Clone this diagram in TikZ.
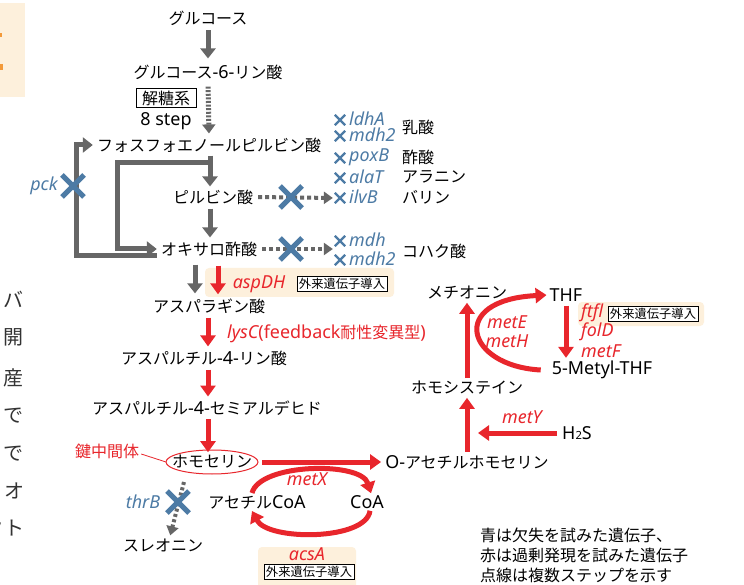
\documentclass[tikz,border=0pt]{standalone}
\usepackage{fontspec}
\setmainfont{Noto Sans CJK JP}
\newfontfamily\lat{Noto Sans}[Scale=1.12]
\usetikzlibrary{arrows.meta,shapes.misc,calc}
\definecolor{mygray}{HTML}{666666}
\definecolor{myred}{HTML}{E8262C}
\definecolor{myblue}{HTML}{4D7BA5}
\definecolor{mybeige}{HTML}{FDF0DC}
\definecolor{myorange}{HTML}{F39A3A}
\tikzset{
 txt/.style={font=\fontsize{16}{18}\selectfont, inner sep=2pt},
 side/.style={font=\fontsize{20}{22}\selectfont, inner sep=0pt, text=black!80},
 gene/.style={font=\fontsize{16}{18}\selectfont\lat\itshape, text=myblue, inner sep=1pt},
 rgene/.style={font=\fontsize{16}{18}\selectfont\lat\itshape, text=myred, inner sep=1pt},
 gar/.style={draw=mygray, line width=5pt, -{Triangle[length=10pt,width=15pt]}},
 rar/.style={draw=myred, line width=5pt, -{Triangle[length=11pt,width=15pt]}},
 rarc/.style={draw=myred, line width=5pt, -{Triangle[length=11pt,width=15pt]}},
 dvar/.style={draw=mygray, line width=5pt, dash pattern=on 2pt off 1.6pt, -{Triangle[length=9pt,width=13pt]}},
 dhar/.style={draw=mygray, line width=4pt, dash pattern=on 4pt off 3pt, -{Triangle[length=9pt,width=12pt]}},
 dtar/.style={draw=mygray, line width=4pt, dash pattern=on 3pt off 2.5pt, -{Triangle[length=9pt,width=12pt]}},
 bigx/.style={cross out, draw=myblue, line width=5pt, minimum size=17pt, inner sep=0pt},
 smallx/.style={cross out, draw=myblue, line width=2.3pt, minimum size=8pt, inner sep=0pt},
 wbox/.style={draw=black, line width=0.8pt, fill=white, font=\fontsize{12.3}{13}\selectfont, inner xsep=2pt, inner ysep=1.5pt},
 beigebg/.style={fill=mybeige, rounded corners=4pt},
}
\begin{document}
\begin{tikzpicture}[x=1pt,y=-1pt]
\useasboundingbox (0,0) rectangle (744,585);
\fill[white] (0,0) rectangle (744,585);

% clipped fragments at the left edge
\fill[mybeige] (-3,3) rectangle (25,97);
\fill[myorange] (-1,33) rectangle (2,37);
\fill[myorange] (-1,64) rectangle (2.5,70);
\node[side] (s1) at (14,299) {バ};
\node[side] (s2) at (14,337) {開};
\node[side] (s3) at (14,378) {産};
\node[side] (s4) at (14,416) {で};
\node[side] (s5) at (14,454) {で};
\node[side] (s6) at (15,491) {オ};
\node[side] (s7) at (15,528) {ト};
\node[side] (s8) at (-6,528) {ッ};

% beige highlight boxes
\fill[beigebg] (205,268) rectangle (394,297);
\fill[beigebg] (578,302) rectangle (704,326);
\fill[beigebg] (258,547) rectangle (356,592);

% main nodes
\node[txt] (glc) at (208,18) {グルコース};
\node[txt] (g6p) at (208,72) {グルコース{\lat -6-}リン酸};
\node[txt, draw=black, line width=0.8pt, inner xsep=6pt, inner ysep=2.5pt] (glyc) at (166,98) {解糖系};
\node[txt] (step) at (166,121) {\lat 8 step};
\node[txt] (pep) at (209,145) {フォスフォエノールピルビン酸};
\node[txt] (pyr) at (213,197) {ピルビン酸};
\node[txt] (oaa) at (209,249) {オキサロ酢酸};
\node[txt] (asp) at (209,306) {アスパラギン酸};
\node[txt] (aspp) at (204,358) {アスパルチル{\lat -4-}リン酸};
\node[txt] (asa) at (207,408) {アスパルチル{\lat -4-}セミアルデヒド};
\node[txt] (hse) at (212,462) {ホモセリン};
\node[txt, text=myred] (key) at (107,451) {鍵中間体};
\node[txt] (oah) at (467,462) {{\lat O-}アセチルホモセリン};
\node[txt] (acoa) at (257,502) {アセチル{\lat CoA}};
\node[txt] (coa) at (367,502) {\lat CoA};
\node[txt] (thr) at (163,545) {スレオニン};
\node[txt] (met) at (467,293) {メチオニン};
\node[txt] (thf) at (566,295) {\lat THF};
\node[txt] (mthf) at (602,370) {\lat 5-Metyl-THF};
\node[txt] (hcy) at (467,388) {ホモシステイン};
\node[txt] (h2s) at (577,433) {\lat H\raisebox{-0.5pt}{\fontsize{10}{10}\selectfont 2}S};

% ellipse around homoserine
\draw[myred, line width=1pt] (hse.center) ellipse [x radius=46, y radius=12];
\draw[myred, line width=0.8pt] ([yshift=-3pt]key.east) -- ([xshift=-46pt]hse.center);

% glycolysis
\draw[gar, shorten <=3pt, shorten >=4pt] (glc) -- (g6p);
\draw[dvar, shorten <=5pt, shorten >=2pt] (g6p.south) -- (pep.north);
\draw[gar, shorten <=1pt, shorten >=1pt] ([xshift=1pt]pep.south) -- ([xshift=1pt]pep.south |- pyr.north);
\draw[gar, shorten <=2pt, shorten >=2pt] ([xshift=1pt]pep.south |- pyr.south) -- ([xshift=1pt]pep.south |- oaa.north);
\draw[gar, shorten >=2pt] ([xshift=1pt,yshift=-8pt]pep.south) -| ([xshift=-41pt]oaa.west) -- (oaa.west);
\draw[gar, shorten >=2pt] ([xshift=-2pt,yshift=-7pt]oaa.west) -| ([xshift=-18pt]pep.west) -- (pep.west);
\node[bigx] (pckx) at (73,186) {};
\node[gene] (pck) at (44,186) {pck};

% side products
\node[smallx] (xa) at (340,120) {};
\node[smallx] (xb) at (340,136) {};
\node[smallx] (xc) at (340,158) {};
\node[smallx] (xd) at (340,178) {};
\node[smallx] (xe) at (340,198) {};
\node[smallx] (xf) at (340,241) {};
\node[smallx] (xg) at (340,260) {};
\node[gene, anchor=west] (ldhA) at (348,119) {ldhA};
\node[gene, anchor=west] (mdh2a) at (348,135) {mdh2};
\node[gene, anchor=west] (poxB) at (348,157) {poxB};
\node[gene, anchor=west] (alaT) at (348,177) {alaT};
\node[gene, anchor=west] (ilvB) at (348,197) {ilvB};
\node[gene, anchor=west] (mdh) at (348,240) {mdh};
\node[gene, anchor=west] (mdh2b) at (348,259) {mdh2};
\node[txt, anchor=west] (lac) at (400,127) {乳酸};
\node[txt, anchor=west] (ace) at (400,157) {酢酸};
\node[txt, anchor=west] (ala) at (400,177) {アラニン};
\node[txt, anchor=west] (val) at (400,197) {バリン};
\node[txt, anchor=west] (suc) at (400,251) {コハク酸};
\draw[dhar, shorten <=3pt, shorten >=2pt] (pyr.east) -- (xe.west);
\draw[dhar, shorten <=3pt, shorten >=2pt] (oaa.east) -- (oaa.east -| xf.west);
\node[bigx] (x1) at (291,197) {};
\node[bigx] (x2) at (291,249) {};

% aspartate branch
\draw[gar, shorten <=6pt, shorten >=3pt] ([xshift=-14pt]oaa.south) -- ([xshift=-14pt]oaa.south |- asp.north);
\draw[rar, shorten <=7pt, shorten >=2pt] ([xshift=9pt]oaa.south) -- ([xshift=9pt]oaa.south |- asp.north);
\node[rgene] (aspDH) at (259,284) {aspDH};
\node[wbox] (box1) at (342,284) {外来遺伝子導入};
\draw[rar, shorten <=2pt, shorten >=2pt] ([xshift=-1pt]asp.south) -- ([xshift=-1pt]asp.south |- aspp.north);
\node[txt, text=myred, anchor=west] (lysC) at (225,334) {{\lat\itshape lysC}{\lat (feedback}耐性変異型{\lat )}};
\draw[rar, shorten <=2pt, shorten >=2pt] ([xshift=-1pt]asp.south |- aspp.south) -- ([xshift=-1pt]asp.south |- asa.north);
\draw[rar, shorten <=2pt, shorten >=1pt] ([xshift=-1pt]asp.south |- asa.south) -- ([xshift=-1pt]asp.south |- hse.north);

% homoserine to O-acetylhomoserine
\draw[rar, shorten >=2pt] ([xshift=50pt]hse.center) -- (oah.west);
\draw[rarc] ([xshift=-5pt]acoa.north) .. controls +(8,-30) and +(-10,-32) .. ([xshift=4pt]coa.north);
\node[rgene] (metX) at (307,479) {metX};
\draw[rarc] ([xshift=3pt]coa.south) .. controls +(-4,30) and +(16,30) .. ([xshift=-5pt]acoa.south);
\node[rgene] (acsA) at (307,554) {acsA};
\node[wbox] (box3) at (309,572) {外来遺伝子導入};

% threonine branch
\draw[dtar, shorten >=1pt] ([xshift=-28pt,yshift=-20pt]hse.center) -- ([xshift=7pt]thr.north);
\node[bigx] (thrx) at (178,502) {};
\node[gene] (thrB) at (143,502) {thrB};

% methionine part
\draw[rar, shorten <=1pt, shorten >=1pt] (oah) -- (hcy);
\draw[rar, shorten <=1pt, shorten >=1pt] (hcy) -- (met);
\draw[rar, shorten <=3pt, shorten >=11pt] (h2s.west) -- (h2s.west -| hcy.south);
\node[rgene] (metY) at (522,417) {metY};
\draw[rar, shorten <=2pt, shorten >=1pt] (thf.south) -- (thf.south |- mthf.north);
\draw[rarc, shorten >=1pt] ([xshift=-9pt]mthf.west) .. controls +(-75,-4) and +(-100,5) .. (thf.west);
\node[rgene] (metE) at (507,322) {metE};
\node[rgene] (metH) at (507,341) {metH};
\node[rgene, anchor=west] (ftfl) at (580,313) {ftfl};
\node[wbox] (box2) at (653,314) {外来遺伝子導入};
\node[rgene, anchor=west] (folD) at (580,332) {folD};
\node[rgene, anchor=west] (metF) at (580,351) {metF};

% legend
\node[txt, anchor=west] (leg1) at (478,535) {青は欠失を試みた遺伝子、};
\node[txt, anchor=west] (leg2) at (478,555) {赤は過剰発現を試みた遺伝子};
\node[txt, anchor=west] (leg3) at (478,575) {点線は複数ステップを示す};
\end{tikzpicture}
\end{document}
